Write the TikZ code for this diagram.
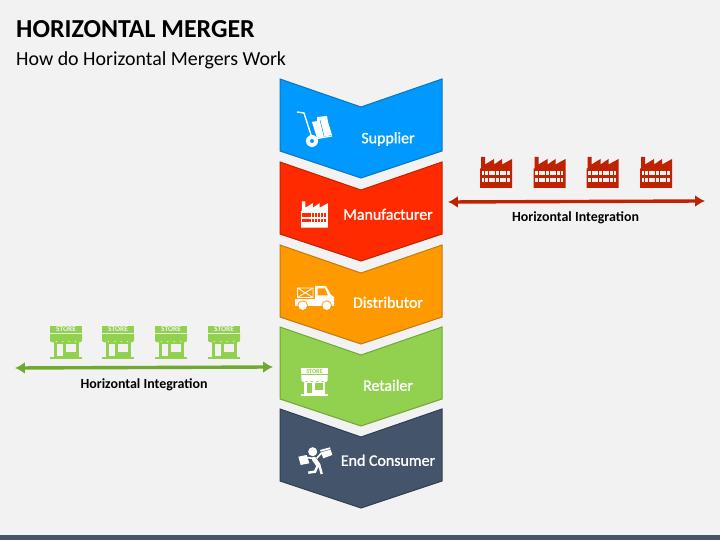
\documentclass[tikz,border=0pt]{standalone}
\usepackage{fontspec}
\setmainfont{Carlito}
\newfontfamily\chevfont[FakeBold=1.2]{Carlito}
\usetikzlibrary{arrows.meta, positioning}
\definecolor{pagebg}{HTML}{F2F2F2}
\definecolor{slate}{HTML}{44546A}
\definecolor{slatedark}{HTML}{2F3E55}
\definecolor{supblue}{HTML}{0099FF}
\definecolor{supbluedark}{HTML}{0B76BE}
\definecolor{manred}{HTML}{FF2A00}
\definecolor{manreddark}{HTML}{C02200}
\definecolor{disorange}{HTML}{FF9900}
\definecolor{disorangedark}{HTML}{C47A10}
\definecolor{retgreen}{HTML}{92D050}
\definecolor{retgreendark}{HTML}{6EAA2E}

\tikzset{
  chevlabel/.style={text=white, font=\chevfont\fontsize{16}{18}\selectfont, inner sep=0pt},
  sidelabel/.style={text=black, font=\bfseries\fontsize{14}{16}\selectfont, inner sep=0pt},
  twoway/.style={{Latex[length=10pt,width=12pt]}-{Latex[length=10pt,width=12pt]}, line width=3.4pt},
  pics/chevron/.style n args={2}{code={
    \draw[fill=#1, draw=#2, line width=1pt] (-81,0) -- (0,-28) -- (81,0) -- (81,-72) -- (0,-99) -- (-81,-72) -- cycle;
  }},
  pics/factory/.style n args={2}{code={
    \fill[#1] (-16,-15.5) -- (-16,4) -- (-15,4) -- (-15,15.5) -- (-11,15.5) -- (-11,8) -- (-2,13.5) -- (-2,8) -- (6,13.5) -- (6,8) -- (16,13.5) -- (16,-15.5) -- cycle;
    \foreach \i in {0,...,7} {
      \fill[#2] (-14.5+\i*3.65,-2.5) rectangle ++(2.9,4);
      \fill[#2] (-14.5+\i*3.65,-9.5) rectangle ++(2.9,4);
    }
  }},
  pics/store/.style n args={2}{code={
    \fill[#1] (-16,9.5) rectangle (16,16.5);
    \node[transform shape, text=#2, font=\bfseries\fontsize{7.5}{8}\selectfont, inner sep=0pt] (storetext) at (0,13) {STORE};
    \fill[#1] (-16,8.5) -- (16,8.5) -- (16,2) arc (0:-180:3.2 and 2) arc (0:-180:3.2 and 2) arc (0:-180:3.2 and 2) arc (0:-180:3.2 and 2) arc (0:-180:3.2 and 2) -- cycle;
    \fill[#1] (-12.5,-14.5) rectangle (12.5,0);
    \fill[#2] (-9.5,-14) rectangle (-3.5,-1.5);
    \fill[#2] (0,-10) rectangle (10,-1.5);
    \fill[#1] (-16,-16.5) rectangle (16,-14.8);
  }}
}

\begin{document}
\begin{tikzpicture}[x=1bp, y=1bp]
\useasboundingbox (0,0) rectangle (720,540);
\fill[pagebg] (0,0) rectangle (720,540);
\fill[slate] (0,0) rectangle (720,5);

% Heading
\node[anchor=west, inner sep=0pt, font=\bfseries\fontsize{26}{30}\selectfont] (title) at (16,511) {HORIZONTAL MERGER};
\node[anchor=west, inner sep=0pt, font=\fontsize{20}{24}\selectfont] (subtitle) at (16,480) {How do Horizontal Mergers Work};

% Chevron column
\pic at (361,461) {chevron={supblue}{supbluedark}};
\pic at (361,378) {chevron={manred}{manreddark}};
\pic at (361,295) {chevron={disorange}{disorangedark}};
\pic at (361,213) {chevron={retgreen}{retgreendark}};
\pic at (361,131) {chevron={slate}{slatedark}};

\node[chevlabel] (supplier) at (388,401) {Supplier};
\node[chevlabel] (manufacturer) at (388,325.7) {Manufacturer};
\node[chevlabel] (distributor) at (388,237.7) {Distributor};
\node[chevlabel] (retailer) at (388,154.7) {Retailer};
\node[chevlabel] (consumer) at (388,79.7) {End Consumer};

% Trolley icon
\draw[white, line width=1.4pt] (297,428) -- (304,427) -- (311,405);
\draw[white, line width=1.3pt] (314,401) -- (332,404);
\fill[white] (312,418) -- (317,419) -- (317,423) -- (327,424) -- (328,418) -- (332,405) -- (317,402) -- cycle;
\draw[supblue, line width=.5pt] (320,420) -- (324,404);
\fill[white] (312,399) circle (6);
\fill[supblue] (312,399) circle (2);

% Factory and store icons inside the column
\pic[scale=.84] at (314.5,325.5) {factory={white}{manred}};
\pic[scale=.82] at (314.5,158) {store={white}{retgreen}};

% Truck icon
\fill[white] (295,234) rectangle (315,241);
\draw[white, line width=.9pt] (297.5,242.5) rectangle (313,252) (297.5,242.5) -- (313,252) (297.5,252) -- (313,242.5);
\fill[white] (315,234) -- (315,254) -- (326,254) -- (331,245) -- (334,243) -- (334,234) -- cycle;
\fill[disorange] (317.5,251.5) -- (325,251.5) -- (328,244.5) -- (317.5,244.5) -- cycle;
\draw[white, fill=white] (302.7,234.3) circle (4.3) (326.7,234.3) circle (4.3);
\draw[disorange, line width=.8pt] (302.7,234.3) circle (4.9) (326.7,234.3) circle (4.9);

% Shopper icon
\fill[white] (312.7,88.3) circle (4.5);
\draw[white, line width=4.5pt, line cap=round] (314,81) -- (318.3,75);
\draw[white, line width=1.6pt] (314,81.5) -- (305,82.7) (316.7,81.7) -- (321.7,87.3);
\draw[white, line width=2.4pt] (318,75) -- (315,68.3) -- (308.3,67.3) (319.3,75) -- (321.7,66);
\fill[white] (298.3,83.3) -- (306.7,85) -- (309.3,76.7) -- (300.7,75) -- cycle;
\fill[white] (320,90) -- (330,92.7) -- (332.3,85) -- (323.3,81.7) -- cycle;
\draw[slate, line width=.4pt] (320.8,88) -- (330.8,90.7);

% Right group of factories
\foreach \fx/\fname in {496/facA, 549.5/facB, 602.5/facC, 656/facD}
  \pic (\fname) at (\fx,367.5) {factory={manreddark}{pagebg}};
\coordinate (redleft) at (448,338);
\coordinate (redright) at (705,339);
\draw[twoway, manreddark] (redleft) -- (redright);
\node[sidelabel] (redlabel) at (575.5,322) {Horizontal Integration};

% Left group of stores
\foreach \sx/\sname in {66/stoA, 118/stoB, 171/stoC, 224/stoD}
  \pic (\sname) at (\sx,197.5) {store={retgreen}{pagebg}};
\coordinate (greenleft) at (15,172);
\coordinate (greenright) at (273,173);
\draw[twoway, retgreendark] (greenleft) -- (greenright);
\node[sidelabel] (greenlabel) at (144,155) {Horizontal Integration};
\end{tikzpicture}
\end{document}
